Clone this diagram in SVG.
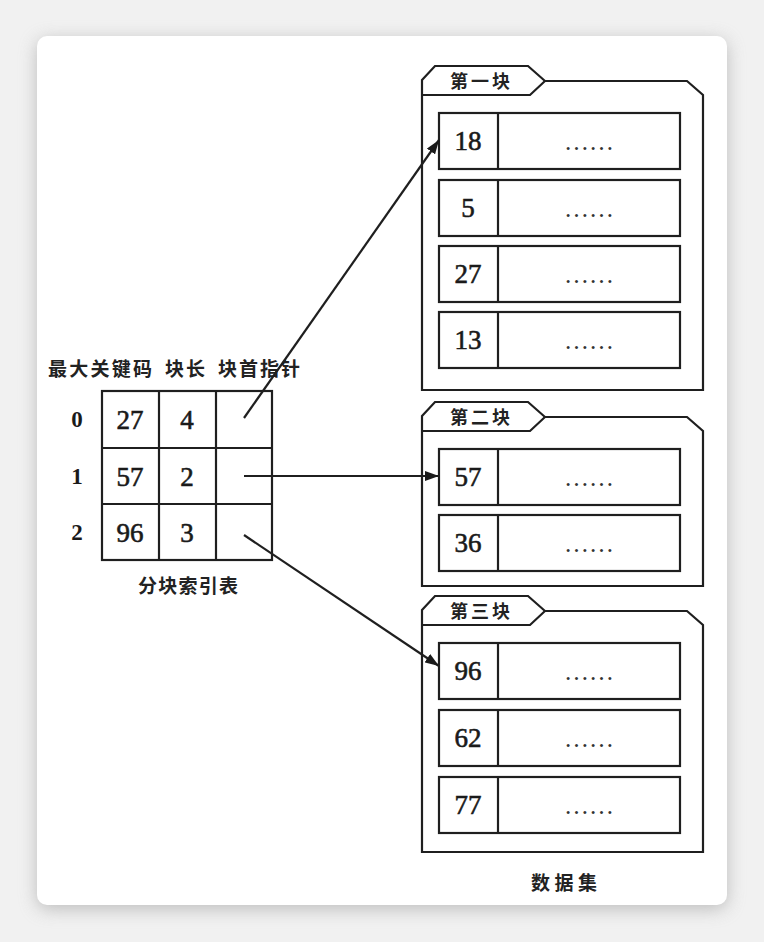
<svg xmlns="http://www.w3.org/2000/svg" width="764" height="942" viewBox="0 0 764 942">
<defs>
<filter id="sh" x="-10%" y="-10%" width="120%" height="120%"><feGaussianBlur stdDeviation="9"/></filter>
<marker id="ah" viewBox="0 0 14 10" refX="14" refY="5" markerWidth="14" markerHeight="10" markerUnits="userSpaceOnUse" orient="auto"><path d="M0,0 L14,5 L0,10 Z" fill="#1a1a1a"/></marker>
<style>
.ln{fill:none;stroke:#1f1f1f;stroke-width:2.2}
.cell{fill:#fff;stroke:#1f1f1f;stroke-width:2.2}
.num{font-family:"Liberation Serif",serif;font-size:27px;fill:#1a1a1a;stroke:#1a1a1a;stroke-width:0.6;text-anchor:middle}
.idx{font-family:"Liberation Serif",serif;font-size:23px;font-weight:bold;fill:#1a1a1a;text-anchor:middle}
.zh{font-family:"Noto Sans CJK SC",sans-serif;font-size:19px;font-weight:bold;fill:#222;text-anchor:middle}
.tab{font-family:"Noto Sans CJK SC",sans-serif;font-size:18px;font-weight:bold;fill:#222;text-anchor:middle}
.dots{font-family:"Liberation Serif",serif;font-size:25px;fill:#333;text-anchor:middle}
</style>
</defs>
<rect x="0" y="0" width="764" height="942" fill="#f1f1f1"/>
<rect x="37" y="40" width="690" height="869" rx="10" fill="#9a9a9a" filter="url(#sh)" opacity="0.6"/>
<rect x="37" y="36" width="690" height="869" rx="10" fill="#fff"/>

<g id="index-table">
<text class="zh" x="100" y="376" textLength="104">最大关键码</text>
<text class="zh" x="185" y="376" textLength="40">块长</text>
<text class="zh" x="259" y="376" textLength="82">块首指针</text>
<rect class="cell" x="102" y="391" width="170" height="169"/>
<line class="ln" x1="159" y1="391" x2="159" y2="560"/>
<line class="ln" x1="216" y1="391" x2="216" y2="560"/>
<line class="ln" x1="102" y1="448" x2="272" y2="448"/>
<line class="ln" x1="102" y1="504" x2="272" y2="504"/>
<text class="idx" x="77" y="427">0</text>
<text class="idx" x="77" y="484">1</text>
<text class="idx" x="77" y="540">2</text>
<text class="num" x="130" y="429">27</text>
<text class="num" x="187" y="429">4</text>
<text class="num" x="130" y="486">57</text>
<text class="num" x="187" y="486">2</text>
<text class="num" x="130" y="542">96</text>
<text class="num" x="187" y="542">3</text>
<text class="zh" x="188" y="593" textLength="100">分块索引表</text>
</g>

<g id="block1">
<path class="ln" d="M422,80 L435,66 L528,66 L545,81 L687,81 L703,95 L703,390 L422,390 Z"/>
<path class="ln" d="M422,95 L530,95 L545,81"/>
<text class="tab" x="480" y="88" textLength="60">第一块</text>
<rect class="cell" x="439" y="113" width="241" height="56"/><line class="ln" x1="498" y1="113" x2="498" y2="169"/>
<text class="num" x="468" y="150">18</text><text class="dots" x="589" y="150" textLength="50">……</text>
<rect class="cell" x="439" y="180" width="241" height="56"/><line class="ln" x1="498" y1="180" x2="498" y2="236"/>
<text class="num" x="468" y="217">5</text><text class="dots" x="589" y="217" textLength="50">……</text>
<rect class="cell" x="439" y="246" width="241" height="56"/><line class="ln" x1="498" y1="246" x2="498" y2="302"/>
<text class="num" x="468" y="283">27</text><text class="dots" x="589" y="283" textLength="50">……</text>
<rect class="cell" x="439" y="312" width="241" height="56"/><line class="ln" x1="498" y1="312" x2="498" y2="368"/>
<text class="num" x="468" y="349">13</text><text class="dots" x="589" y="349" textLength="50">……</text>
</g>

<g id="block2">
<path class="ln" d="M422,416 L435,402 L528,402 L545,417 L687,417 L703,431 L703,586 L422,586 Z"/>
<path class="ln" d="M422,431 L530,431 L545,417"/>
<text class="tab" x="480" y="424" textLength="60">第二块</text>
<rect class="cell" x="439" y="449" width="241" height="56"/><line class="ln" x1="498" y1="449" x2="498" y2="505"/>
<text class="num" x="468" y="486">57</text><text class="dots" x="589" y="486" textLength="50">……</text>
<rect class="cell" x="439" y="515" width="241" height="56"/><line class="ln" x1="498" y1="515" x2="498" y2="571"/>
<text class="num" x="468" y="552">36</text><text class="dots" x="589" y="552" textLength="50">……</text>
</g>

<g id="block3">
<path class="ln" d="M422,610 L435,596 L528,596 L545,611 L687,611 L703,625 L703,852 L422,852 Z"/>
<path class="ln" d="M422,625 L530,625 L545,611"/>
<text class="tab" x="480" y="618" textLength="60">第三块</text>
<rect class="cell" x="439" y="643" width="241" height="56"/><line class="ln" x1="498" y1="643" x2="498" y2="699"/>
<text class="num" x="468" y="680">96</text><text class="dots" x="589" y="680" textLength="50">……</text>
<rect class="cell" x="439" y="710" width="241" height="56"/><line class="ln" x1="498" y1="710" x2="498" y2="766"/>
<text class="num" x="468" y="747">62</text><text class="dots" x="589" y="747" textLength="50">……</text>
<rect class="cell" x="439" y="777" width="241" height="56"/><line class="ln" x1="498" y1="777" x2="498" y2="833"/>
<text class="num" x="468" y="814">77</text><text class="dots" x="589" y="814" textLength="50">……</text>
<text class="zh" x="564" y="890" textLength="66">数据集</text>
</g>

<g id="connectors">
<line class="ln" x1="244" y1="418" x2="439" y2="140" marker-end="url(#ah)"/>
<line class="ln" x1="244" y1="476" x2="439" y2="476" marker-end="url(#ah)"/>
<line class="ln" x1="244" y1="535" x2="439" y2="666" marker-end="url(#ah)"/>
</g>
</svg>
